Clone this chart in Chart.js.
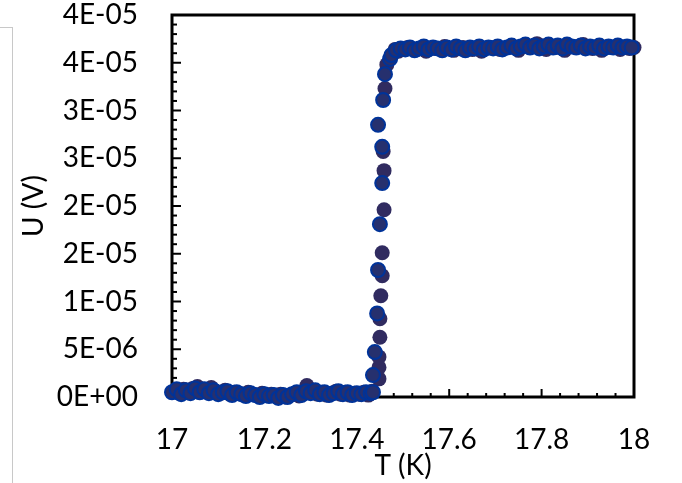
<!DOCTYPE html>
<html>
<head>
<meta charset="utf-8">
<script src="https://cdn.jsdelivr.net/npm/chart.js@4"></script>
<style>
    html, body { margin: 0; padding: 0; background: #fff; }
    #wrap { position: relative; width: 682px; height: 483px; }
    #side { position: absolute; left: 0; top: 27px; width: 12px; height: 456px;
            border-top: 1px solid #c8c8c8; border-right: 1px solid #c8c8c8; }
</style>
</head>
<body>
<div id="wrap">
    <div id="side"></div>
    <canvas id="chart" width="682" height="483"></canvas>
</div>
<script>
// series A: filled points, series B: points with blue outline
const tempA = [
    17.005, 17.015, 17.025, 17.035, 17.045, 17.055, 17.065, 17.075, 17.085, 17.095,
    17.105, 17.115, 17.125, 17.135, 17.145, 17.155, 17.165, 17.175, 17.185, 17.195,
    17.205, 17.215, 17.225, 17.235, 17.245, 17.255, 17.265, 17.275, 17.285, 17.292,
    17.305, 17.315, 17.325, 17.335, 17.345, 17.355, 17.365, 17.375, 17.385, 17.395,
    17.405, 17.415, 17.425, 17.433,
    17.448, 17.448, 17.448, 17.450, 17.450, 17.452, 17.455, 17.455, 17.459, 17.459,
    17.457, 17.461, 17.465, 17.483,
    17.49, 17.51, 17.53, 17.55, 17.57, 17.59, 17.61, 17.63, 17.65, 17.67,
    17.69, 17.71, 17.73, 17.75, 17.77, 17.79, 17.81, 17.83, 17.85, 17.87,
    17.89, 17.91, 17.93, 17.95, 17.97, 17.99, 18.00
];
const voltA = [
    0.6e-6, 0.4e-6, 0.8e-6, 0.5e-6, 0.9e-6, 1.1e-6, 0.7e-6, 0.5e-6, 1.0e-6, 0.6e-6,
    0.4e-6, 0.7e-6, 0.3e-6, 0.5e-6, 0.4e-6, 0.2e-6, 0.5e-6, 0.3e-6, 0.1e-6, 0.4e-6,
    0.2e-6, 0.3e-6, 0.1e-6, 0.3e-6, 0.0e-6, 0.2e-6, 0.4e-6, 0.1e-6, 0.5e-6, 1.2e-6,
    0.6e-6, 0.3e-6, 0.5e-6, 0.2e-6, 0.4e-6, 0.6e-6, 0.3e-6, 0.5e-6, 0.2e-6, 0.4e-6,
    0.3e-6, 0.5e-6, 0.2e-6, 0.6e-6,
    1.9e-6, 3.1e-6, 4.2e-6, 6.25e-6, 8.2e-6, 1.06e-5, 1.27e-5, 1.51e-5, 1.96e-5, 2.37e-5,
    2.57e-5, 3.23e-5, 3.48e-5, 3.64e-5,
    3.62e-5, 3.66e-5, 3.64e-5, 3.62e-5, 3.65e-5, 3.67e-5, 3.63e-5, 3.66e-5, 3.64e-5, 3.62e-5,
    3.66e-5, 3.64e-5, 3.66e-5, 3.63e-5, 3.67e-5, 3.70e-5, 3.64e-5, 3.66e-5, 3.63e-5, 3.67e-5,
    3.69e-5, 3.65e-5, 3.63e-5, 3.66e-5, 3.64e-5, 3.65e-5, 3.66e-5
];

const tempB = [
    17.000, 17.010, 17.020, 17.030, 17.040, 17.050, 17.060, 17.070, 17.080, 17.090,
    17.100, 17.110, 17.120, 17.130, 17.140, 17.150, 17.160, 17.170, 17.180, 17.190,
    17.200, 17.210, 17.220, 17.230, 17.240, 17.250, 17.260, 17.270, 17.280, 17.290,
    17.300, 17.310, 17.320, 17.330, 17.340, 17.350, 17.360, 17.370, 17.380, 17.390,
    17.400, 17.410, 17.420, 17.430,
    17.435, 17.435, 17.439, 17.444, 17.446, 17.450, 17.455, 17.455, 17.446, 17.457,
    17.461, 17.472,
    17.475, 17.485, 17.495, 17.505, 17.515, 17.525, 17.535, 17.545, 17.555, 17.565,
    17.575, 17.585, 17.595, 17.605, 17.615, 17.625, 17.635, 17.645, 17.655, 17.665,
    17.675, 17.685, 17.695, 17.705, 17.715, 17.725, 17.735, 17.745, 17.755, 17.765,
    17.775, 17.785, 17.795, 17.805, 17.815, 17.825, 17.835, 17.845, 17.855, 17.865,
    17.875, 17.885, 17.895, 17.905, 17.915, 17.925, 17.935, 17.945, 17.955, 17.965,
    17.975, 17.985, 17.995
];
const voltB = [
    0.5e-6, 0.8e-6, 0.3e-6, 0.7e-6, 0.4e-6, 0.9e-6, 0.5e-6, 0.8e-6, 0.4e-6, 0.7e-6,
    0.3e-6, 0.5e-6, 0.6e-6, 0.2e-6, 0.5e-6, 0.3e-6, 0.1e-6, 0.4e-6, 0.2e-6, 0.0e-6,
    0.3e-6, 0.1e-6, 0.2e-6, -0.1e-6, 0.2e-6, 0.0e-6, 0.3e-6, 0.5e-6, 0.2e-6, 0.6e-6,
    0.4e-6, 0.7e-6, 0.3e-6, 0.5e-6, 0.2e-6, 0.4e-6, 0.6e-6, 0.3e-6, 0.5e-6, 0.2e-6,
    0.4e-6, 0.3e-6, 0.5e-6, 0.4e-6,
    0.5e-6, 2.3e-6, 4.7e-6, 8.75e-6, 1.33e-5, 1.81e-5, 2.24e-5, 2.62e-5, 2.85e-5, 3.11e-5,
    3.38e-5, 3.54e-5,
    3.58e-5, 3.63e-5, 3.65e-5, 3.64e-5, 3.66e-5, 3.63e-5, 3.65e-5, 3.67e-5, 3.64e-5, 3.66e-5,
    3.65e-5, 3.63e-5, 3.66e-5, 3.64e-5, 3.67e-5, 3.65e-5, 3.63e-5, 3.66e-5, 3.65e-5, 3.67e-5,
    3.64e-5, 3.66e-5, 3.65e-5, 3.67e-5, 3.64e-5, 3.66e-5, 3.68e-5, 3.65e-5, 3.67e-5, 3.69e-5,
    3.66e-5, 3.68e-5, 3.65e-5, 3.67e-5, 3.69e-5, 3.66e-5, 3.68e-5, 3.65e-5, 3.69e-5, 3.67e-5,
    3.66e-5, 3.68e-5, 3.65e-5, 3.67e-5, 3.66e-5, 3.68e-5, 3.65e-5, 3.67e-5, 3.66e-5, 3.68e-5,
    3.66e-5, 3.67e-5, 3.66e-5
];

// Excel style "0E+00" labels, as printed on the axes
const yTickLabels = ["0E+00", "5E-06", "1E-05", "2E-05", "2E-05", "3E-05", "3E-05", "4E-05", "4E-05"];
const xTickLabels = ["17", "17.2", "17.4", "17.6", "17.8", "18"];

const font = { family: "Lato, 'Open Sans', sans-serif", size: 28 };

function toPoints(xs, ys) {
    return xs.map((x, i) => ({ x: x, y: ys[i] }));
}

// box around the plot area and inside tick marks
const frameTicks = {
    id: "frameTicks",
    beforeDatasetsDraw(chart) {
        const ctx = chart.ctx;
        const a = chart.chartArea;
        const xs = chart.scales.x;
        const ys = chart.scales.y;
        ctx.save();
        ctx.strokeStyle = "#000";
        ctx.lineWidth = 2;
        for (let i = 0; i <= 25; i++) {
            let px = xs.getPixelForValue(17 + i * 0.04);
            let len = i % 5 === 0 ? 8 : 4;
            ctx.beginPath();
            ctx.moveTo(px, a.bottom);
            ctx.lineTo(px, a.bottom - len);
            ctx.stroke();
        }
        for (let i = 0; i <= 40; i++) {
            let py = ys.getPixelForValue(i * 1e-6);
            let len = i % 5 === 0 ? 9 : 5;
            ctx.beginPath();
            ctx.moveTo(a.left, py);
            ctx.lineTo(a.left + len, py);
            ctx.stroke();
        }
        ctx.lineWidth = 3;
        ctx.strokeRect(a.left, a.top, a.right - a.left, a.bottom - a.top);
        ctx.restore();
    }
};

new Chart(document.getElementById("chart"), {
    type: "scatter",
    data: {
        datasets: [
            {
                label: "B",
                data: toPoints(tempB, voltB),
                backgroundColor: "#26306e",
                borderColor: "#003399",
                borderWidth: 2,
                pointRadius: 7,
                clip: false,
                order: 1
            },
            {
                label: "A",
                data: toPoints(tempA, voltA),
                backgroundColor: "#302b60",
                borderWidth: 0,
                pointRadius: 7.5,
                clip: false,
                order: 2
            }
        ]
    },
    options: {
        responsive: false,
        animation: false,
        devicePixelRatio: 1,
        layout: { padding: { top: 15, right: 48, left: 0, bottom: 0 } },
        plugins: {
            legend: { display: false },
            tooltip: { enabled: false }
        },
        scales: {
            x: {
                type: "linear",
                min: 17,
                max: 18,
                grid: { display: false, drawTicks: false },
                border: { display: false },
                ticks: {
                    stepSize: 0.2,
                    maxRotation: 0,
                    color: "#000",
                    font: font,
                    padding: 26,
                    callback: (v, i) => xTickLabels[i]
                },
                title: { display: true, text: "T (K)", color: "#000", font: font, padding: { top: 0, bottom: 0 } },
                afterFit(s) {
                    s.height = 86;
                    s.paddingLeft = 0;
                    s.paddingRight = 0;
                }
            },
            y: {
                min: 0,
                max: 4e-5,
                grid: { display: false, drawTicks: false },
                border: { display: false },
                ticks: {
                    stepSize: 5e-6,
                    color: "#000",
                    font: Object.assign({ lineHeight: 1 }, font),
                    padding: 34,
                    callback: (v, i) => yTickLabels[i]
                },
                title: { display: true, text: "U (V)", color: "#000", font: font, padding: { top: 17, bottom: 0 } },
                afterFit(s) {
                    s.width = 172;
                    s.paddingTop = 0;
                    s.paddingBottom = 0;
                }
            }
        }
    },
    plugins: [frameTicks]
});
</script>
</body>
</html>
